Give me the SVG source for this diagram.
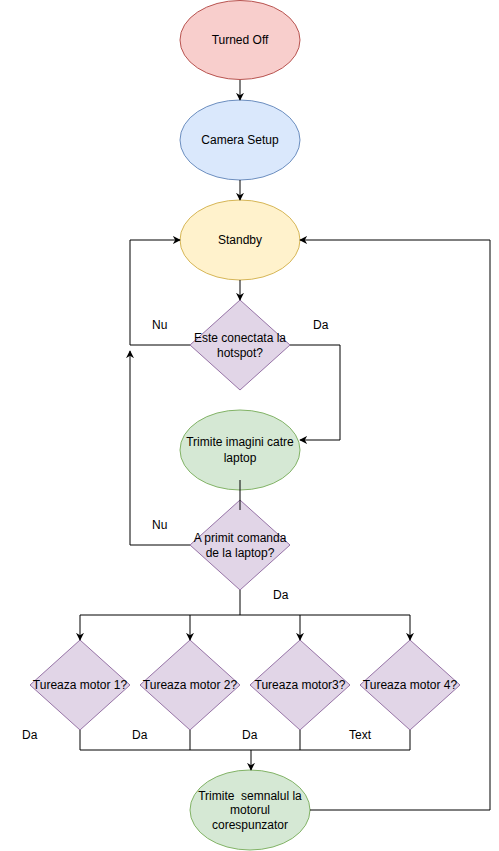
<svg xmlns="http://www.w3.org/2000/svg" width="499" height="851" viewBox="0 0 499 851">
<style>
text{font-family:"Liberation Sans",Arial,sans-serif;font-size:12px;fill:#000;text-anchor:middle;dominant-baseline:central;white-space:pre}
.lbl{text-anchor:start}
.red{fill:#f8cecc;stroke:#b85450}
.blue{fill:#dae8fc;stroke:#6c8ebf}
.yel{fill:#fff2cc;stroke:#d6b656}
.pur{fill:#e1d5e7;stroke:#9673a6}
.grn{fill:#d5e8d4;stroke:#82b366}
.c{fill:none;stroke:#000;stroke-width:1}
</style>
<defs>
<marker id="a" viewBox="0 0 10 10" refX="9" refY="5" markerWidth="8" markerHeight="8" markerUnits="userSpaceOnUse" orient="auto">
<path d="M0,0 L10,5 L0,10 L3,5 Z" fill="#000"/>
</marker>
</defs>
<g id="n-off"><ellipse class="red" cx="240" cy="40" rx="60" ry="39.5"/><text x="240" y="40">Turned Off</text></g>
<g id="n-cam"><ellipse class="blue" cx="240" cy="140" rx="60" ry="40"/><text x="240" y="140">Camera Setup</text></g>
<g id="n-stb"><ellipse class="yel" cx="240" cy="240" rx="60" ry="40"/><text x="240" y="240">Standby</text></g>
<g id="n-hot"><path class="pur" d="M240,300 L290,345 L240,390 L190,345 Z"/><text x="240" y="338">Este conectata la</text><text x="240" y="353">hotspot?</text></g>
<g id="n-img"><ellipse class="grn" cx="240" cy="450" rx="60" ry="40"/><text x="240" y="442">Trimite imagini catre</text><text x="240" y="458">laptop</text></g>
<g id="n-cmd"><path class="pur" d="M240,500 L290,545 L240,590 L190,545 Z"/><text x="240" y="538">A primit comanda</text><text x="240" y="553">de la laptop?</text></g>
<g id="n-m1"><path class="pur" d="M80,640 L130,685 L80,730 L30,685 Z"/><text x="80" y="685">Tureaza motor 1?</text></g>
<g id="n-m2"><path class="pur" d="M190,640 L240,685 L190,730 L140,685 Z"/><text x="190" y="685">Tureaza motor 2?</text></g>
<g id="n-m3"><path class="pur" d="M300,640 L350,685 L300,730 L250,685 Z"/><text x="300" y="685">Tureaza motor3?</text></g>
<g id="n-m4"><path class="pur" d="M410,640 L460,685 L410,730 L360,685 Z"/><text x="410" y="685">Tureaza motor 4?</text></g>
<g id="n-sig"><ellipse class="grn" cx="250" cy="810" rx="60" ry="40"/><text x="250" y="796">Trimite  semnalul la</text><text x="250" y="810">motorul</text><text x="250" y="825">corespunzator</text></g>
<g id="connectors">
<path class="c" d="M240,80 L240,100" marker-end="url(#a)"/>
<path class="c" d="M240,180 L240,200" marker-end="url(#a)"/>
<path class="c" d="M240,280 L240,300" marker-end="url(#a)"/>
<path class="c" d="M190,345 L130,345 L130,240 L180,240" marker-end="url(#a)"/>
<path class="c" d="M290,345 L340,345 L340,440 L300,440" marker-end="url(#a)"/>
<path class="c" d="M240,480 L240,510"/>
<path class="c" d="M190,545 L130,545 L130,351" marker-end="url(#a)"/>
<path class="c" d="M240,590 L240,615"/>
<path class="c" d="M80,615 L410,615"/>
<path class="c" d="M80,615 L80,640" marker-end="url(#a)"/>
<path class="c" d="M190,615 L190,640" marker-end="url(#a)"/>
<path class="c" d="M300,615 L300,640" marker-end="url(#a)"/>
<path class="c" d="M410,615 L410,640" marker-end="url(#a)"/>
<path class="c" d="M80,730 L80,750 L410,750 L410,730"/>
<path class="c" d="M190,730 L190,750"/>
<path class="c" d="M300,730 L300,750"/>
<path class="c" d="M251,750 L251,770" marker-end="url(#a)"/>
<path class="c" d="M310,810 L490,810 L490,240 L300,240" marker-end="url(#a)"/>
</g>
<g id="labels">
<text class="lbl" x="152" y="325">Nu</text>
<text class="lbl" x="313" y="325">Da</text>
<text class="lbl" x="152" y="525">Nu</text>
<text class="lbl" x="273" y="595">Da</text>
<text class="lbl" x="22" y="735">Da</text>
<text class="lbl" x="132" y="735">Da</text>
<text class="lbl" x="242" y="735">Da</text>
<text class="lbl" x="349" y="735">Text</text>
</g>
</svg>
